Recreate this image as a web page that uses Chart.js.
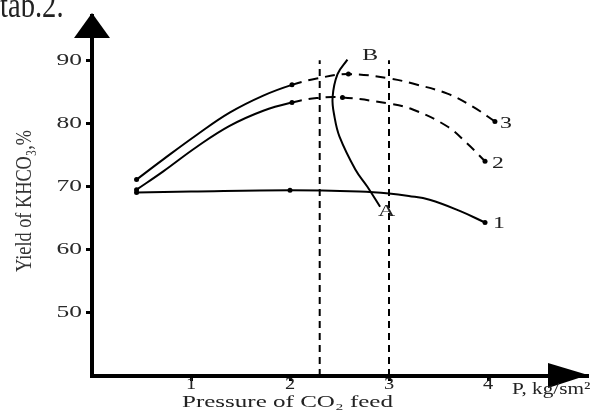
<!DOCTYPE html>
<html>
<head>
<meta charset="utf-8">
<script src="https://cdn.jsdelivr.net/npm/chart.js@4/dist/chart.umd.min.js"></script>
<style>
  html, body { margin: 0; padding: 0; background: #fff; }
  canvas { display: block; }
</style>
</head>
<body>
<canvas id="chart" width="609" height="412"></canvas>
<script>
// --- values (P in kg/sm2, yield in %) ---
const p1 = [0.45, 1.0, 2.0, 2.7, 3.0, 3.2, 3.41, 3.72, 3.97];
const y1 = [69.05, 69.2, 69.4, 69.2, 68.9, 68.5, 67.9, 66.1, 64.3];
const p2 = [0.45, 0.72, 1.06, 1.39, 1.73, 2.02, 2.27, 2.53, 3.01, 3.24, 3.59, 3.79, 3.97];
const y2 = [69.5, 72.4, 76.3, 79.6, 82.0, 83.3, 84.0, 84.1, 83.1, 82.2, 79.5, 76.8, 74.0];
const p3 = [0.45, 0.72, 1.06, 1.39, 1.73, 2.02, 2.27, 2.59, 3.01, 3.24, 3.59, 3.85, 4.07];
const y3 = [71.1, 74.3, 78.2, 81.7, 84.4, 86.1, 87.1, 87.8, 87.1, 86.3, 84.7, 82.6, 80.3];
const pAB = [2.91, 2.78, 2.66, 2.50, 2.45, 2.43, 2.48, 2.58];
const yAB = [66.8, 70.0, 72.7, 77.9, 81.0, 84.1, 87.8, 90.1];
const bounds = [2.3, 3.0];           // dashed verticals
const boundY = [40, 90];
const dashFrom = 2.0;                // curves 2 and 3 go dashed after this P
const marked = [0.45, 2.0, 2.02, 2.53, 2.59, 3.97, 4.07];
const xTicks = [1, 2, 3, 4];
const yTicks = [50, 60, 70, 80, 90];
const names = ["1", "2", "3", "A", "B"];
const nameX = [4.05, 4.04, 4.12, 2.89, 2.73];
const nameY = [64.2, 73.6, 80.0, 66.0, 90.8];

const pts = (xs, ys) => xs.map((x, i) => ({ x, y: ys[i] }));
const SERIF = '"Liberation Serif", "DejaVu Serif", serif';

function curve(data, dashed) {
  return {
    data,
    showLine: true,
    borderColor: "#000",
    borderWidth: 2,
    tension: 0.4,
    pointRadius: (ctx) => (marked.includes(ctx.raw.x) ? 2.5 : 0),
    pointBackgroundColor: "#000",
    pointBorderWidth: 0,
    segment: dashed ? { borderDash: (ctx) => (ctx.p0.parsed.x >= dashFrom ? [10, 7] : undefined) } : {},
  };
}

function vline(x) {
  return {
    data: boundY.map((y) => ({ x, y })),
    showLine: true,
    borderColor: "#000",
    borderWidth: 2,
    borderDash: [7, 5],
    pointRadius: 0,
  };
}

function text(ctx, str, x, y, size, sx, align, color, base, sy) {
  ctx.save();
  ctx.translate(x, y);
  ctx.scale(sx, sy || 1);
  ctx.font = `${size}px ${SERIF}`;
  ctx.fillStyle = color || "#222";
  ctx.textAlign = align;
  ctx.textBaseline = base || "middle";
  ctx.fillText(str, 0, 0);
  ctx.restore();
}

const decor = {
  id: "decor",
  afterDraw(chart) {
    const { ctx, chartArea: a, scales } = chart;
    const xs = scales.x, ys = scales.y;

    // arrow heads
    ctx.save();
    ctx.fillStyle = "#000";
    ctx.beginPath();
    ctx.moveTo(a.left, a.top - 3);
    ctx.lineTo(a.left - 18, a.top + 22);
    ctx.lineTo(a.left + 18, a.top + 22);
    ctx.closePath();
    ctx.fill();
    ctx.beginPath();
    ctx.moveTo(a.right + 1, a.bottom - 1);
    ctx.lineTo(a.right - 39, a.bottom - 13);
    ctx.lineTo(a.right - 39, a.bottom + 12);
    ctx.closePath();
    ctx.fill();
    ctx.restore();

    // tick labels
    yTicks.forEach((v) => text(ctx, String(v), a.left - 10, ys.getPixelForValue(v), 17, 1.5, "right", "#2a2a2a"));
    xTicks.forEach((v) => text(ctx, String(v), xs.getPixelForValue(v), a.bottom + 9, 17, 1.2, "center", "#222"));

    // curve names
    names.forEach((n, i) => text(ctx, n, xs.getPixelForValue(nameX[i]), ys.getPixelForValue(nameY[i]), 17, 1.4, "left", "#222"));

    // titles
    ctx.save();
    ctx.font = `17px ${SERIF}`;
    const xt = "Pressure of CO₂ feed";
    const w = ctx.measureText(xt).width;
    ctx.restore();
    text(ctx, xt, 182, 403, 17, 211 / w, "left", "#222");
    text(ctx, "P, kg/sm²", 512, 390, 17, 1.25, "left", "#222");
    text(ctx, "tab.2.", 0, 17, 26, 1.1, "left", "#222", "alphabetic", 1.35);

    ctx.save();
    ctx.translate(25, 201);
    ctx.rotate(-Math.PI / 2);
    ctx.scale(1, 1.3);
    ctx.font = `18px ${SERIF}`;
    ctx.fillStyle = "#333";
    ctx.textAlign = "center";
    ctx.textBaseline = "middle";
    const yt = "Yield of KHCO₃,%";
    const yw = ctx.measureText(yt).width;
    ctx.scale(142 / yw, 1);
    ctx.fillText(yt, 0, 0);
    ctx.restore();
  },
};

new Chart(document.getElementById("chart"), {
  type: "scatter",
  data: {
    datasets: [
      curve(pts(p1, y1), false),
      curve(pts(p2, y2), true),
      curve(pts(p3, y3), true),
      curve(pts(pAB, yAB), false),
      vline(bounds[0]),
      vline(bounds[1]),
    ],
  },
  options: {
    responsive: false,
    animation: false,
    layout: { padding: { top: 16, right: 22, left: 0, bottom: 0 } },
    plugins: { legend: { display: false }, tooltip: { enabled: false } },
    scales: {
      x: {
        type: "linear",
        min: 0,
        max: 5,
        afterFit: (s) => { s.height = 36; },
        afterBuildTicks: (s) => { s.ticks = xTicks.map((v) => ({ value: v })); },
        border: { width: 4, color: "#000" },
        grid: { drawOnChartArea: false, tickLength: 5, lineWidth: 3, color: "#000" },
        ticks: { display: false },
      },
      y: {
        min: 40,
        max: 97,
        afterFit: (s) => { s.width = 92; },
        afterBuildTicks: (s) => { s.ticks = yTicks.map((v) => ({ value: v })); },
        border: { width: 4, color: "#000" },
        grid: { drawOnChartArea: false, tickLength: 6, lineWidth: 3, color: "#000" },
        ticks: { display: false },
      },
    },
  },
  plugins: [decor],
});
</script>
</body>
</html>
